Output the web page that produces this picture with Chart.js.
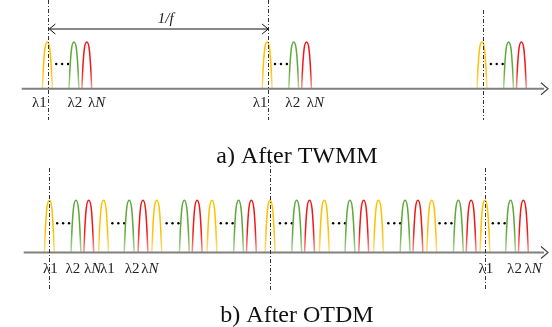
<!DOCTYPE html>
<html>
<head>
<meta charset="utf-8">
<script src="https://cdn.jsdelivr.net/npm/chart.js@4"></script>
<style>
  html, body { margin: 0; padding: 0; background: #fff; }
  #wrap { position: relative; width: 552px; height: 327px; }
  canvas { position: absolute; left: 0; }
  #topChart { top: 0; }
  #botChart { top: 160px; }
</style>
</head>
<body>
<div id="wrap">
  <canvas id="topChart" width="552" height="167" style="width:552px;height:167px"></canvas>
  <canvas id="botChart" width="552" height="167" style="width:552px;height:167px"></canvas>
</div>
<script>
// pulse centres on the time axis (a: after TWMM)
const topYellow = [44, 267, 485];
const topGreen = [71, 294, 512];
const topRed = [84, 307, 525];
const topFrames = [45, 268, 486];      // frame boundaries (dash-dot lines)
const topDots = [59, 281, 500];
const topLabels = ['λ1', 'λ2', 'λN', 'λ1', 'λ2', 'λN'];
const topLabelX = [36, 72, 94, 260, 293, 316];

// pulse centres (b: after OTDM)
const botYellow = [46, 101, 155, 211, 270, 325, 380, 434, 488];
const botGreen = [73, 127, 183, 238, 297, 351, 407, 461, 514];
const botRed = [86, 141, 196, 251, 310, 365, 420, 474, 527];
const botFrames = [46, 270, 488];
const botDots = [60, 116, 171, 226, 286, 340, 396, 448, 502];
const botLabels = ['λ1', 'λ2', 'λN', 'λ1', 'λ2', 'λN', 'λ1', 'λ2', 'λN'];
const botLabelX = [47, 70, 90, 105, 130, 148, 489, 518, 537];

// pulse profile: offset along time, relative height
const pulseOffsets = [-5, -4, -2.5, 0, 2.5, 4, 5];
const pulseLevels = [0, 0.45, 0.85, 1, 0.85, 0.45, 0];

const YELLOW = ['#ffc000', '#ffe08a'];
const GREEN = ['#5fa83a', '#b5dba0'];
const RED = ['#f01818', '#ff9a9a'];

function fade(pair) {
  return function (c) {
    const chart = c.chart;
    if (!chart.chartArea) return pair[0];
    const ys = chart.scales.y;
    const g = chart.ctx.createLinearGradient(0, ys.getPixelForValue(1), 0, ys.getPixelForValue(0));
    g.addColorStop(0, pair[0]);
    g.addColorStop(0.6, pair[0]);
    g.addColorStop(1, pair[1]);
    return g;
  };
}

function pulseSets(centres, color) {
  return centres.map(c => ({
    data: pulseOffsets.map((o, i) => ({ x: c + o, y: pulseLevels[i] })),
    borderColor: fade(color),
    borderWidth: 1.5,
    pointRadius: 0,
    fill: false,
    tension: 0.4,
    cubicInterpolationMode: 'monotone'
  }));
}

function dotSet(centres, level) {
  const pts = [];
  centres.forEach(c => [-6, 0, 6].forEach(o => pts.push({ x: c + o, y: level })));
  return {
    data: pts,
    showLine: false,
    pointRadius: 1.2,
    pointBackgroundColor: '#000',
    pointBorderWidth: 0
  };
}

// axis, frame markers, labels
const schematic = {
  id: 'schematic',
  afterDatasetsDraw(chart, args, o) {
    const ctx = chart.ctx;
    const xs = chart.scales.x, ys = chart.scales.y;
    const y0 = ys.getPixelForValue(0);
    ctx.save();
    // time axis with arrow
    ctx.strokeStyle = '#808080';
    ctx.lineWidth = 2;
    ctx.beginPath();
    ctx.moveTo(xs.getPixelForValue(o.axisStart), y0);
    ctx.lineTo(xs.getPixelForValue(548), y0);
    ctx.stroke();
    ctx.lineWidth = 1.2;
    ctx.strokeStyle = '#444';
    ctx.beginPath();
    ctx.moveTo(541, y0 - 6);
    ctx.lineTo(548, y0);
    ctx.lineTo(541, y0 + 6);
    ctx.stroke();
    // dash-dot frame lines
    ctx.strokeStyle = '#333';
    ctx.lineWidth = 1;
    ctx.setLineDash([4, 2, 1, 2]);
    o.frames.forEach((f, i) => {
      const px = Math.round(xs.getPixelForValue(f)) + 0.5;
      ctx.beginPath();
      ctx.moveTo(px, o.lineTop[i]);
      ctx.lineTo(px, o.lineBottom);
      ctx.stroke();
    });
    ctx.setLineDash([]);
    // wavelength labels
    ctx.fillStyle = '#222';
    ctx.textBaseline = 'alphabetic';
    o.labels.forEach((t, i) => {
      const cx = xs.getPixelForValue(o.labelX[i]);
      const head = t.slice(0, 1), tail = t.slice(1);
      ctx.font = '15px "Liberation Serif"';
      const w1 = ctx.measureText(head).width;
      ctx.font = (tail === 'N' ? 'italic ' : '') + '15px "Liberation Serif"';
      const w2 = ctx.measureText(tail).width;
      const left = cx - (w1 + w2) / 2;
      ctx.font = '15px "Liberation Serif"';
      ctx.textAlign = 'left';
      ctx.fillText(head, left, o.labelY);
      ctx.font = (tail === 'N' ? 'italic ' : '') + '15px "Liberation Serif"';
      ctx.fillText(tail, left + w1, o.labelY);
    });
    // period arrow
    if (o.period) {
      const a = xs.getPixelForValue(o.frames[0]) + 1, b = xs.getPixelForValue(o.frames[1]);
      const yy = 29;
      ctx.strokeStyle = '#111';
      ctx.lineWidth = 1;
      ctx.beginPath();
      ctx.moveTo(a, yy); ctx.lineTo(b, yy);
      ctx.moveTo(a + 6, yy - 5); ctx.lineTo(a, yy); ctx.lineTo(a + 6, yy + 5);
      ctx.moveTo(b - 6, yy - 5); ctx.lineTo(b, yy); ctx.lineTo(b - 6, yy + 5);
      ctx.stroke();
      ctx.font = 'italic 15px "Liberation Serif"';
      ctx.textAlign = 'center';
      ctx.fillText('1/f', (a + b) / 2 + 7, 23);
    }
    // caption
    ctx.font = '24px "Liberation Serif"';
    ctx.textAlign = 'center';
    ctx.fillStyle = '#111';
    ctx.fillText(o.caption, 297, o.captionY);
    ctx.restore();
  }
};

function makeChart(id, yellow, green, red, dots, dotLevel, yMin, yMax, opts) {
  return new Chart(document.getElementById(id), {
    type: 'line',
    data: {
      datasets: [
        ...pulseSets(yellow, YELLOW),
        ...pulseSets(green, GREEN),
        ...pulseSets(red, RED),
        dotSet(dots, dotLevel)
      ]
    },
    options: {
      responsive: false,
      animation: false,
      layout: { padding: 0 },
      plugins: { legend: { display: false }, tooltip: { enabled: false }, schematic: opts },
      scales: {
        x: { type: 'linear', min: 0, max: 552, display: false },
        y: { min: yMin, max: yMax, display: false }
      }
    },
    plugins: [schematic]
  });
}

makeChart('topChart', topYellow, topGreen, topRed, topDots, 0.53, -1.592, 1.816, {
  axisStart: 18, frames: topFrames, lineTop: [0, 0, 10], lineBottom: 120,
  labels: topLabels, labelX: topLabelX, labelY: 107,
  period: true, caption: 'a) After TWMM', captionY: 163
});

makeChart('botChart', botYellow, botGreen, botRed, botDots, 0.56, -1.345, 1.691, {
  axisStart: 20, frames: botFrames, lineTop: [8, 0, 8], lineBottom: 130,
  labels: botLabels, labelX: botLabelX, labelY: 113,
  period: false, caption: 'b) After OTDM', captionY: 162
});
</script>
</body>
</html>
